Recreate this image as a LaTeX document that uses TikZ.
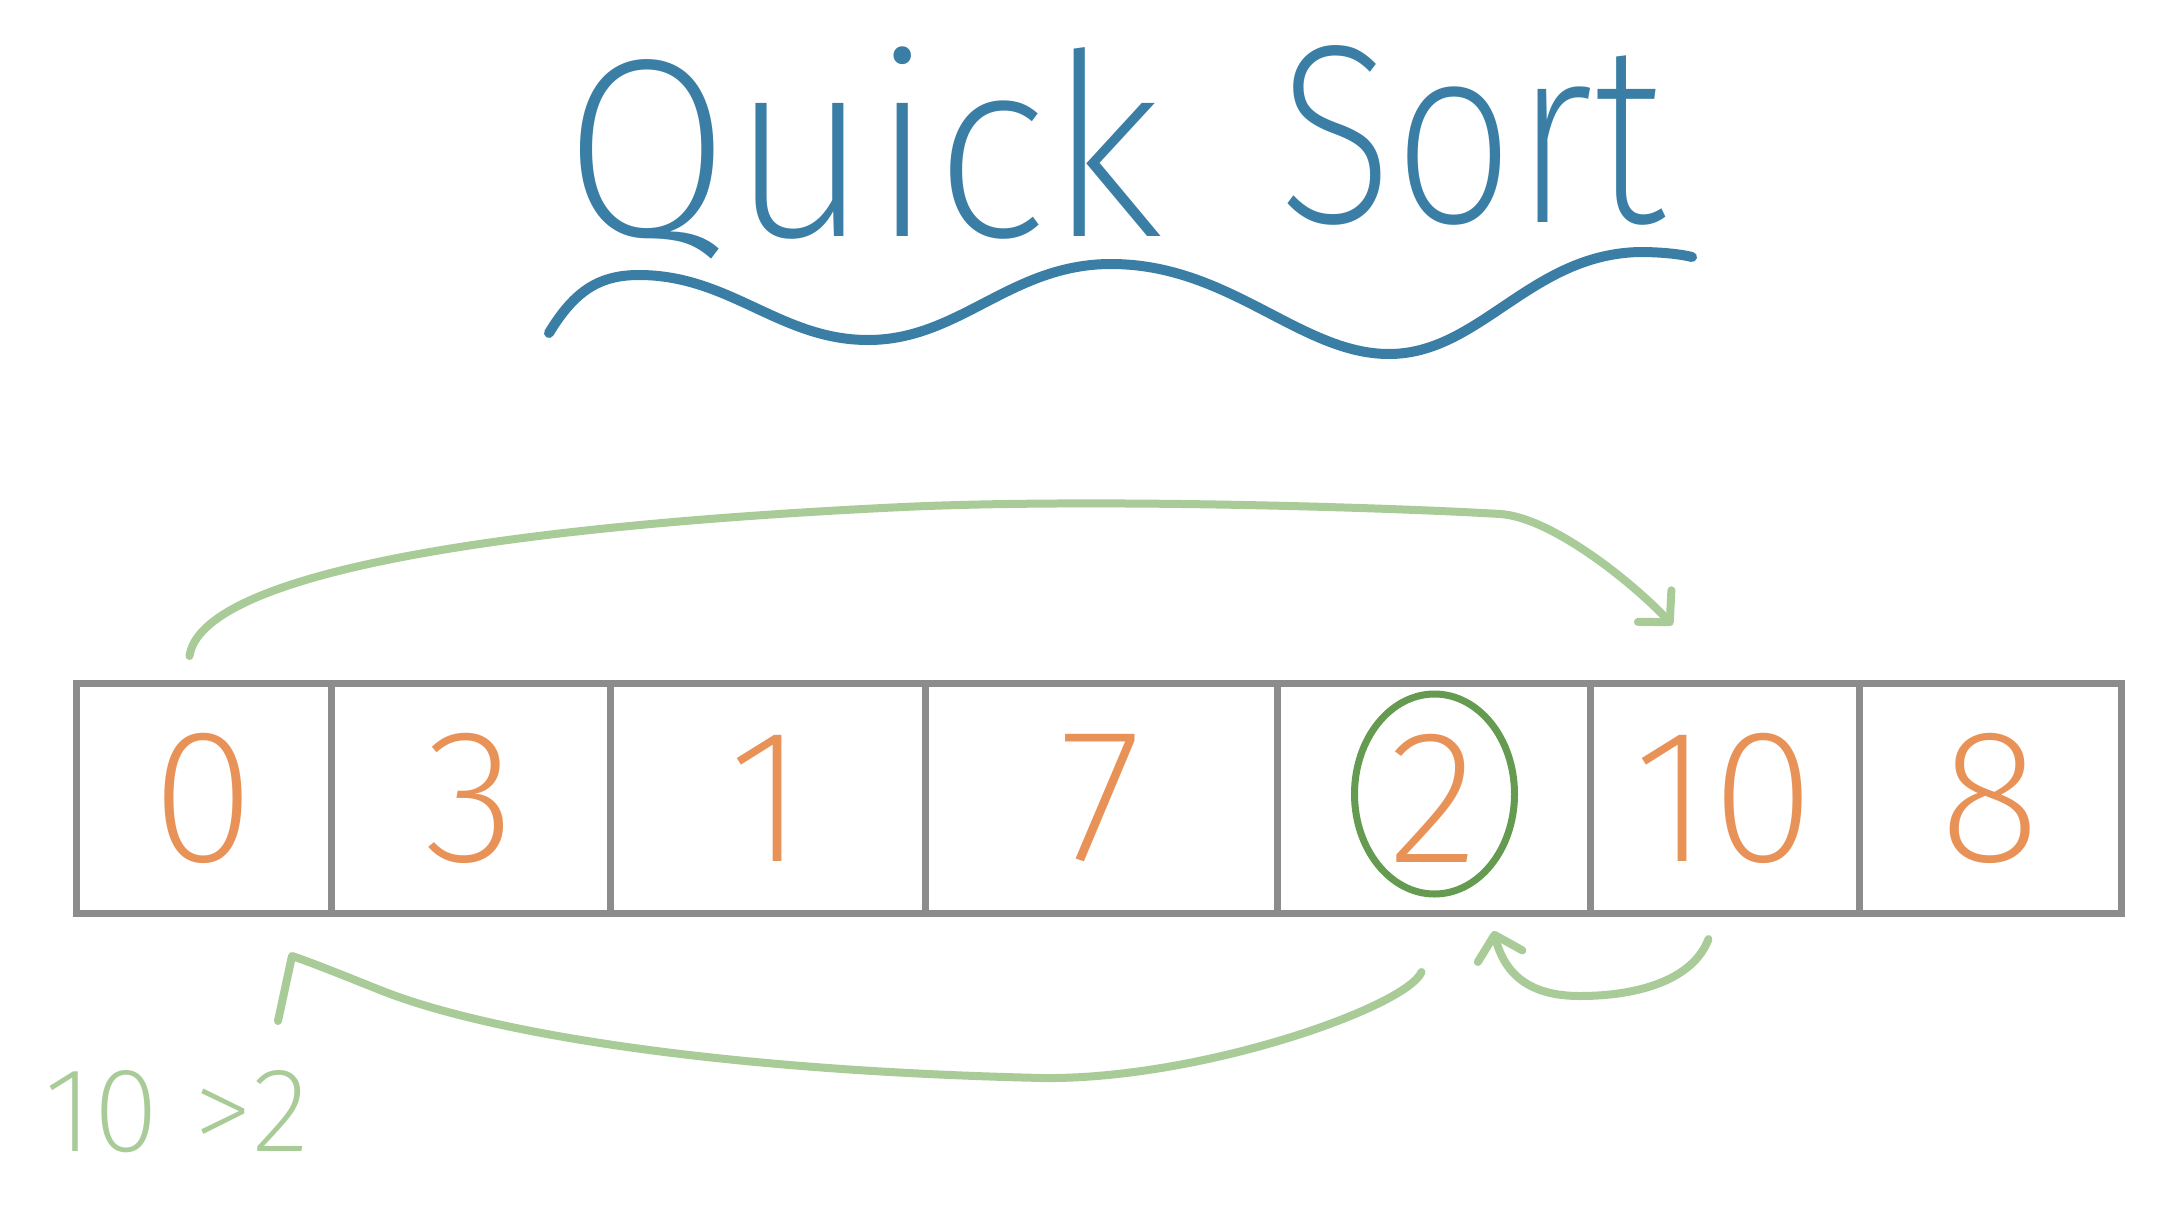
\documentclass[tikz,border=0pt]{standalone}
\usepackage{fontspec}
\usetikzlibrary{arrows.meta,shapes.geometric,calc}
\IfFontExistsTF{Fira Sans ExtraLight}{\newfontfamily\handfont{Fira Sans ExtraLight}}{%
 \IfFontExistsTF{Fira Sans Light}{\newfontfamily\handfont{Fira Sans Light}}{%
  \IfFontExistsTF{Lato Light}{\newfontfamily\handfont{Lato Light}}{%
   \IfFontExistsTF{DejaVu Sans ExtraLight}{\newfontfamily\handfont{DejaVu Sans ExtraLight}}{%
    \newfontfamily\handfont{Fira Sans}}}}}
\definecolor{qblue}{RGB}{58,126,166}
\definecolor{qgray}{RGB}{140,140,140}
\definecolor{qorange}{RGB}{232,146,88}
\definecolor{qgreen}{RGB}{100,155,80}
\definecolor{qlight}{RGB}{168,203,152}
\tikzset{
  cellbox/.style={draw=qgray, line width=7pt, minimum height=230pt, inner sep=0pt, outer sep=0pt,
    text=qorange, font=\handfont\fontsize{190}{190}\selectfont},
  titletext/.style={text=qblue, inner sep=0pt, font=\handfont\fontsize{255}{255}\selectfont},
  conn/.style={draw=qlight, line width=8pt, line cap=round, line join=round},
  barb/.style={-{Straight Barb[length=22pt,width=46pt,round]}},
  pivotring/.style={draw=qgreen, line width=7pt, ellipse, minimum width=160pt, minimum height=200pt, inner sep=0pt},
  note/.style={text=qlight, inner sep=0pt, font=\handfont\fontsize{120}{120}\selectfont}
}
\begin{document}
\begin{tikzpicture}[x=1pt,y=-1pt]
\fill[white] (0,0) rectangle (2178,1218);
\useasboundingbox (0,0) rectangle (2178,1218);

% title
\node[titletext, anchor=base west, xscale=0.95] (quick) at (563,236) {Quick};
\node[titletext, anchor=base west, xscale=0.84] (sort) at (1278,222) {Sort};
\draw[qblue, line width=10pt, line cap=round] (549,333)
  .. controls (575,290) and (600,275) .. (639,275)
  .. controls (730,275) and (780,340) .. (868,340)
  .. controls (960,340) and (1010,264) .. (1111,264)
  .. controls (1230,264) and (1300,354) .. (1389,354)
  .. controls (1480,354) and (1530,254) .. (1640,252)
  .. controls (1660,252) and (1680,254) .. (1692,257);

% array
\node[cellbox, minimum width=255pt] (c0) at (203.5,798) {0};
\node[cellbox, minimum width=279pt] (c1) at (470.5,798) {3};
\node[cellbox, minimum width=315pt] (c2) at (767.5,798) {1};
\node[cellbox, minimum width=352pt] (c3) at (1101,798) {7};
\node[cellbox, minimum width=313pt] (c4) at (1433.5,798) {2};
\node[cellbox, minimum width=269pt] (c5) at (1724.5,798) {10};
\node[cellbox, minimum width=262pt] (c6) at (1990,798) {8};

\node[pivotring] (pivot) at ([xshift=1pt,yshift=4pt]c4.center) {};

% top arrow: 0 -> position of 10
\draw[conn, barb] ([shift={(-14,-27)}]c0.north)
  .. controls +(10,-70) and (420,530) .. (903,507)
  .. controls (1100,498) and (1400,508) .. (1500,514)
  .. controls (1550,517) and (1630,580) .. ([shift={(-52,-58)}]c5.north);

% bottom long arrow: 2 -> position of 0
\draw[conn] ([shift={(-12,59)}]c4.south)
  .. controls +(-15,35) and (1200,1080) .. (1042,1078)
  .. controls (700,1070) and (480,1030) .. (380,990)
  .. controls (340,974) and (310,962) .. ([shift={(-39,43)}]c0.south east)
  -- ++(-14,65);

% small arrow: 10 -> 2
\draw[conn, barb] ([shift={(-16,26)}]c5.south)
  .. controls +(-15,40) and (1640,996) .. (1580,996)
  .. controls (1530,996) and (1505,975) .. ([shift={(60,18)}]c4.south);

% note
\node[note] (cmp) at (177,1112) {10 >2};
\end{tikzpicture}
\end{document}
